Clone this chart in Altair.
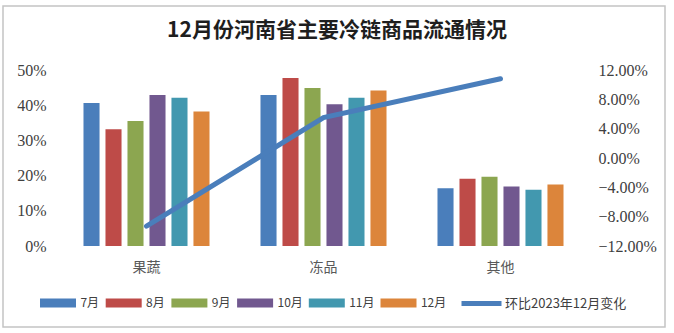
import altair as alt
import pandas as pd

categories = ["果蔬", "冻品", "其他"]
months = ["7月", "8月", "9月", "10月", "11月", "12月"]
share_jul = [0.406, 0.429, 0.164]
share_aug = [0.332, 0.477, 0.191]
share_sep = [0.355, 0.449, 0.197]
share_oct = [0.429, 0.403, 0.169]
share_nov = [0.421, 0.421, 0.160]
share_dec = [0.382, 0.442, 0.175]
mom_change = [-0.093, 0.055, 0.108]
line_label = "环比2023年12月变化"
title_text = "12月份河南省主要冷链商品流通情况"
bar_colors = ["#4A7EBB", "#BE4B48", "#8CA650", "#71588F", "#4298AF", "#DC853B"]
line_color = "#4A7EBB"
left_ticks = [0, 0.1, 0.2, 0.3, 0.4, 0.5]
right_ticks = [-0.12, -0.08, -0.04, 0.0, 0.04, 0.08, 0.12]

series = [share_jul, share_aug, share_sep, share_oct, share_nov, share_dec]
bar_rows = []
for m, vals in zip(months, series):
    for c, v in zip(categories, vals):
        bar_rows.append({"category": c, "month": m, "share": v})
bar_df = pd.DataFrame(bar_rows)
line_df = pd.DataFrame({"category": categories, "change": mom_change, "series": [line_label] * 3})
frame_df = pd.DataFrame({"k": [0]})

SERIF = "Liberation Serif"
CJK = "Noto Sans CJK SC"

frame = alt.Chart(frame_df).mark_rect(filled=False, stroke="#C4C4C4", strokeWidth=1.5).encode(
    x=alt.value(-55), x2=alt.value(607), y=alt.value(-64), y2=alt.value(257)
)

bars = alt.Chart(bar_df).mark_bar().encode(
    x=alt.X("category:N", sort=categories,
            scale=alt.Scale(paddingInner=0.288, paddingOuter=0.144),
            axis=alt.Axis(title=None, labelAngle=0, domain=False, ticks=False,
                          labelPadding=14, labelFont=CJK, labelFontSize=14,
                          labelColor="#595959")),
    xOffset=alt.XOffset("month:N", sort=months,
                        scale=alt.Scale(paddingInner=0.27, paddingOuter=0)),
    y=alt.Y("share:Q", scale=alt.Scale(domain=[0, 0.5]),
            axis=alt.Axis(title=None, format=".0%", values=left_ticks, grid=False,
                          domain=False, ticks=False, labelPadding=12,
                          labelFont=SERIF, labelFontSize=16, labelColor="#404040")),
    color=alt.Color("month:N", sort=months,
                    scale=alt.Scale(domain=months, range=bar_colors),
                    legend=alt.Legend(title=None, orient="none", direction="horizontal",
                                      columns=6, legendX=-9, legendY=224,
                                      symbolType="M-2,-0.5H2V0.5H-2Z", symbolSize=324,
                                      symbolStrokeWidth=0, labelOffset=13.4,
                                      columnPadding=5.7, padding=0,
                                      labelFont=CJK, labelFontSize=12,
                                      labelColor="#404040")),
)

line = alt.Chart(line_df).mark_line(strokeWidth=5, strokeCap="round").encode(
    x=alt.X("category:N", sort=categories),
    y=alt.Y("change:Q", scale=alt.Scale(domain=[-0.12, 0.12]),
            axis=alt.Axis(title=None, orient="right", format=".2%", values=right_ticks,
                          grid=False, domain=False, ticks=False, labelPadding=9,
                          labelFont=SERIF, labelFontSize=16, labelColor="#404040")),
    stroke=alt.Stroke("series:N", scale=alt.Scale(domain=[line_label], range=[line_color]),
                      legend=alt.Legend(title=None, orient="none", legendX=412, legendY=222,
                                        symbolType="M-2.222,0H2.222", symbolSize=324,
                                        symbolStrokeWidth=5, labelOffset=12, padding=0,
                                        labelFont=CJK, labelFontSize=13,
                                        labelColor="#404040")),
)

chart = alt.layer(frame, bars, line).resolve_scale(y="independent").properties(
    width=531,
    height=176,
    autosize=alt.AutoSizeParams(type="none"),
    padding={"left": 58, "top": 70, "right": 85, "bottom": 87},
    title=alt.TitleParams(title_text, font=CJK, fontSize=21, fontWeight="bold",
                          color="#1E1E1E", anchor="middle", dx=13.5, offset=-36),
    background="white",
).configure_view(stroke=None)

chart.save("out.html", embed_options={"renderer": "svg", "actions": False})
